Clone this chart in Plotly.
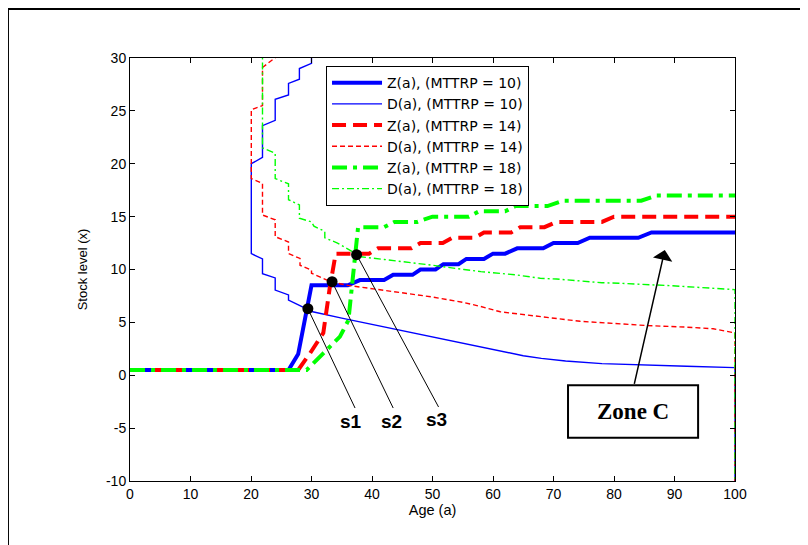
import plotly.graph_objects as go

# ---------------- data ----------------
z10_age = [0, 26.2, 27.8, 29.2, 30, 36, 38, 42, 43.5, 46.7, 48, 50.5, 51.8, 54.3, 55.6, 58.5, 60, 62, 64, 68.3, 70, 74, 76, 84, 86.2, 100]
z10_val = [0.5, 0.5, 2, 6.2, 8.5, 8.5, 9, 9, 9.5, 9.5, 10, 10, 10.5, 10.5, 11, 11, 11.5, 11.5, 12, 12, 12.5, 12.5, 13, 13, 13.5, 13.5]

d10_age = [30, 30, 28, 28, 26.2, 26.2, 24, 24, 21.9, 21.9, 20.05, 20.05, 21.9, 21.9, 24, 24, 26.2, 26.2, 28, 30.2, 35, 40, 45, 50, 55, 58, 60, 62, 65, 68, 72, 78, 85, 92, 100, 100]
d10_val = [31, 29.5, 29, 28, 27.6, 26.5, 26.1, 24.1, 23.6, 20.6, 20, 11.5, 11, 9.6, 9.2, 8.05, 7.6, 7.1, 6.6, 6.0, 5.4, 4.8, 4.2, 3.6, 3.0, 2.7, 2.45, 2.15, 1.85, 1.6, 1.35, 1.1, 0.95, 0.85, 0.72, -10]

z14_age = [0, 27.8, 29.75, 31.95, 33.05, 34, 39.5, 41, 46.5, 48, 51.7, 53.3, 57, 58.5, 63, 64.5, 68.5, 70.5, 78, 80, 100]
z14_val = [0.5, 0.5, 2.07, 4.0, 8.4, 11.5, 11.5, 12, 12, 12.5, 12.5, 13, 13, 13.5, 13.5, 14, 14, 14.5, 14.5, 15, 15]

d14_age = [24.6, 21.9, 21.9, 20.05, 20.05, 21.9, 21.9, 24, 24, 26.2, 26.2, 28.1, 28.1, 30, 30, 33.1, 36, 40, 44, 50, 55, 58, 61.2, 67.5, 74.4, 80, 85.4, 92, 96.4, 100, 100]
d14_val = [30.3, 29.1, 25.5, 25.1, 18.6, 18.15, 15.15, 14.7, 13.1, 12.6, 11.5, 11.05, 10.4, 9.95, 9.65, 8.85, 8.5, 8.2, 7.9, 7.4, 6.9, 6.5, 6.0, 5.55, 5.1, 4.9, 4.7, 4.55, 4.4, 4.0, -10]

z18_age = [0, 29.2, 31.95, 34.7, 36.1, 37.2, 37.7, 42, 43.7, 47.5, 50, 56, 57.7, 62, 63.7, 69, 71.5, 84.5, 87, 100]
z18_val = [0.5, 0.5, 2.07, 3.65, 5.2, 11.5, 14, 14, 14.5, 14.5, 15, 15, 15.5, 15.5, 16, 16, 16.5, 16.5, 17, 17]

d18_age = [21.9, 21.9, 24, 24, 26.2, 26.2, 28, 28, 30, 30.4, 32.2, 32.2, 34.3, 36.4, 38.2, 42, 46.6, 50, 55.2, 58, 63.7, 67.8, 70.5, 78, 80.8, 89.3, 100, 100]
d18_val = [31, 21.5, 21.0, 18.6, 18.1, 16.6, 16.1, 14.85, 14.5, 14.1, 13.6, 13.0, 12.5, 11.8, 11.2, 10.95, 10.67, 10.4, 10.0, 9.8, 9.5, 9.17, 9.1, 8.75, 8.7, 8.47, 8.1, -10]

# intersection points and labels
s_names = ["s1", "s2", "s3"]
s_age = [29.4, 33.4, 37.45]
s_val = [6.3, 8.85, 11.4]
s_lbl_line_age = [37.2, 43.5, 51.0]
s_lbl_line_val = [-3.1, -3.1, -3.0]
s_lbl_age = [36.6, 43.3, 50.7]
s_lbl_val = [-4.4, -4.4, -4.2]

zone_text = "Zone C"
zone_box_age = [72.4, 93.9]
zone_box_val = [-0.95, -5.9]
zone_arrow_tail = (83.3, -0.95)
zone_arrow_head = (88.4, 11.85)

x_ticks = [0, 10, 20, 30, 40, 50, 60, 70, 80, 90, 100]
x_tick_text = ["0", "10", "20", "30", "40", "50", "60", "70", "80", "90", "100"]
y_ticks = [-10, -5, 0, 5, 10, 15, 20, 25, 30]
y_tick_text = ["-10", "-5", "0", "5", "10", "15", "20", "25", "30"]

# ---------------- figure ----------------
BLUE, RED, GREEN = "#0000FF", "#FF0000", "#00FF00"
SANS = "Liberation Sans, Arial, sans-serif"
fig = go.Figure()

series = [
    ("Z(a), (MTTRP = 10)", z10_age, z10_val, BLUE, 4, "solid"),
    ("D(a), (MTTRP = 10)", d10_age, d10_val, BLUE, 1.4, "solid"),
    ("Z(a), (MTTRP = 14)", z14_age, z14_val, RED, 4, "14px,7px"),
    ("D(a), (MTTRP = 14)", d14_age, d14_val, RED, 1.4, "5px,3px"),
    ("Z(a), (MTTRP = 18)", z18_age, z18_val, GREEN, 4, "15px,6px,4px,6px"),
    ("D(a), (MTTRP = 18)", d18_age, d18_val, GREEN, 1.4, "7px,3px,2px,3px"),
]
for name, xs, ys, col, w, dash in series:
    fig.add_trace(go.Scatter(x=xs, y=ys, mode="lines", name=name,
                             line=dict(color=col, width=w, dash=dash)))

fig.add_trace(go.Scatter(x=s_age, y=s_val, mode="markers", showlegend=False,
                         marker=dict(color="black", size=11)))

shapes = []
for i in range(3):
    shapes.append(dict(type="line", xref="x", yref="y",
                       x0=s_age[i], y0=s_val[i], x1=s_lbl_line_age[i], y1=s_lbl_line_val[i],
                       line=dict(color="black", width=1)))
shapes.append(dict(type="rect", xref="x", yref="y",
                   x0=zone_box_age[0], x1=zone_box_age[1], y0=zone_box_val[0], y1=zone_box_val[1],
                   line=dict(color="black", width=2), fillcolor="white"))
# outer figure frame (left and top edges)
shapes.append(dict(type="line", xref="paper", yref="paper", x0=-0.2017, y0=1.1158, x1=1.25, y1=1.1158,
                   line=dict(color="black", width=2)))
shapes.append(dict(type="line", xref="paper", yref="paper", x0=-0.2017, y0=1.1158, x1=-0.2017, y1=-0.2,
                   line=dict(color="black", width=2)))

annotations = []
for i in range(3):
    annotations.append(dict(x=s_lbl_age[i], y=s_lbl_val[i], xref="x", yref="y", text="<b>%s</b>" % s_names[i],
                            showarrow=False, font=dict(family=SANS, size=19, color="black")))
annotations.append(dict(x=(zone_box_age[0] + zone_box_age[1]) / 2, y=(zone_box_val[0] + zone_box_val[1]) / 2,
                        xref="x", yref="y", text="<b>%s</b>" % zone_text, showarrow=False,
                        font=dict(family="Liberation Serif, Times New Roman, serif", size=23, color="black")))
annotations.append(dict(x=zone_arrow_head[0], y=zone_arrow_head[1], xref="x", yref="y",
                        ax=zone_arrow_tail[0], ay=zone_arrow_tail[1], axref="x", ayref="y",
                        text="", showarrow=True, arrowhead=1, arrowsize=2.2, arrowwidth=1.5,
                        arrowcolor="black"))

axis_common = dict(showline=True, linecolor="black", linewidth=1, mirror="ticks",
                   ticks="inside", ticklen=5, tickcolor="black", showgrid=False, zeroline=False,
                   tickfont=dict(family=SANS, size=14, color="black"))

fig.update_layout(
    width=808, height=545,
    margin=dict(l=122, r=81, t=50, b=72),
    paper_bgcolor="white", plot_bgcolor="white",
    font=dict(family=SANS, color="black"),
    xaxis=dict(range=[0, 100], tickvals=x_ticks, ticktext=x_tick_text,
               title=dict(text="Age (a)", font=dict(size=14.5), standoff=2), **axis_common),
    yaxis=dict(range=[-10, 30], tickvals=y_ticks, ticktext=y_tick_text,
               title=dict(text="Stock level (x)", font=dict(size=13), standoff=15), **axis_common),
    legend=dict(x=0.324, y=0.981, xanchor="left", yanchor="top",
                bordercolor="black", borderwidth=1, bgcolor="white",
                font=dict(family="DejaVu Sans, sans-serif", size=14, color="black"),
                itemwidth=50, tracegroupgap=0),
    shapes=shapes, annotations=annotations,
    showlegend=True,
)

fig.write_html("out.html")
